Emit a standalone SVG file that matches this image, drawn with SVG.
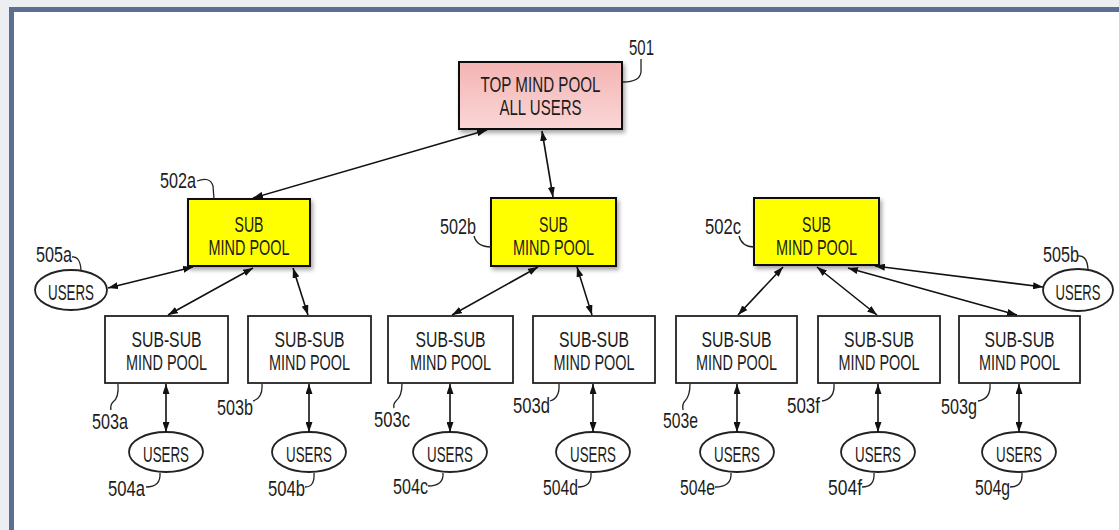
<svg xmlns="http://www.w3.org/2000/svg" width="1119" height="530" viewBox="0 0 1119 530">
<defs>
<marker id="ah" viewBox="0 0 10 7" refX="10" refY="3.5" markerWidth="10" markerHeight="7" markerUnits="userSpaceOnUse" orient="auto-start-reverse"><path d="M0,0 L10,3.5 L0,7 z" fill="#111"/></marker>
<linearGradient id="pink" x1="0" y1="0" x2="0" y2="1"><stop offset="0" stop-color="#f4b4b4"/><stop offset="1" stop-color="#fad6d6"/></linearGradient>
<filter id="sh" x="-10%" y="-10%" width="130%" height="140%"><feDropShadow dx="2" dy="3" stdDeviation="2" flood-color="#000" flood-opacity="0.35"/></filter>
<style>
text{font-family:"Liberation Sans Narrow","Liberation Sans",Arial,sans-serif;fill:#1c1c1c;font-size:22px}
.c{text-anchor:middle}
.box{stroke:#111;stroke-width:2}
.ss{fill:#fff;stroke:#222;stroke-width:1.8}
.ell{fill:#fff;stroke:#222;stroke-width:1.8}
.con{stroke:#111;stroke-width:1.6;fill:none;marker-start:url(#ah);marker-end:url(#ah)}
.ld{stroke:#222;stroke-width:1.3;fill:none}
</style>
</defs>
<rect x="0" y="0" width="1119" height="530" fill="#eceef1"/>
<rect x="9" y="7" width="1110" height="523" fill="#fff"/>
<path d="M11.5,530 L11.5,9.5 L1119,9.5" fill="none" stroke="#5b6f92" stroke-width="5"/>

<g id="n501">
<rect class="box" x="459" y="62" width="163" height="67" fill="url(#pink)" filter="url(#sh)"/>
<text class="c" x="540.5" y="92" textLength="120" lengthAdjust="spacingAndGlyphs">TOP MIND POOL</text>
<text class="c" x="540.5" y="115" textLength="82" lengthAdjust="spacingAndGlyphs">ALL USERS</text>
<text x="629" y="55" textLength="25" lengthAdjust="spacingAndGlyphs">501</text>
<path class="ld" d="M641,59 L641,72 Q640,82 623,82"/>
</g>

<g id="n502a">
<rect class="box" x="188" y="199" width="122" height="67" fill="#ffff00" filter="url(#sh)"/>
<text class="c" x="249" y="232" textLength="29" lengthAdjust="spacingAndGlyphs">SUB</text>
<text class="c" x="249" y="255" textLength="81" lengthAdjust="spacingAndGlyphs">MIND POOL</text>
<text x="160" y="188" textLength="36" lengthAdjust="spacingAndGlyphs">502a</text>
<path class="ld" d="M197,181 Q210,176 213,186 L214,199"/>
</g>
<g id="n502b">
<rect class="box" x="491" y="198" width="125" height="68" fill="#ffff00" filter="url(#sh)"/>
<text class="c" x="553.5" y="232" textLength="29" lengthAdjust="spacingAndGlyphs">SUB</text>
<text class="c" x="553.5" y="255" textLength="81" lengthAdjust="spacingAndGlyphs">MIND POOL</text>
<text x="440" y="234" textLength="36" lengthAdjust="spacingAndGlyphs">502b</text>
<path class="ld" d="M474,236 Q477,247 491,247"/>
</g>
<g id="n502c">
<rect class="box" x="754" y="198" width="125" height="67" fill="#ffff00" filter="url(#sh)"/>
<text class="c" x="816.5" y="232" textLength="29" lengthAdjust="spacingAndGlyphs">SUB</text>
<text class="c" x="816.5" y="255" textLength="81" lengthAdjust="spacingAndGlyphs">MIND POOL</text>
<text x="705" y="234" textLength="36" lengthAdjust="spacingAndGlyphs">502c</text>
<path class="ld" d="M739,236 Q742,247 754,247"/>
</g>

<g id="n503a"><rect class="ss" x="105" y="316" width="123" height="67"/>
<text class="c" x="166.5" y="347" textLength="70" lengthAdjust="spacingAndGlyphs">SUB-SUB</text>
<text class="c" x="166.5" y="370" textLength="81" lengthAdjust="spacingAndGlyphs">MIND POOL</text>
<text x="92" y="429" textLength="36" lengthAdjust="spacingAndGlyphs">503a</text>
<path class="ld" d="M118,384 Q119,398 113,402 Q110,405 111,410"/></g>
<g id="n503b"><rect class="ss" x="248" y="316" width="123" height="67"/>
<text class="c" x="309.5" y="347" textLength="70" lengthAdjust="spacingAndGlyphs">SUB-SUB</text>
<text class="c" x="309.5" y="370" textLength="81" lengthAdjust="spacingAndGlyphs">MIND POOL</text>
<text x="217" y="415" textLength="36" lengthAdjust="spacingAndGlyphs">503b</text>
<path class="ld" d="M262,384 Q263,398 253,401"/></g>
<g id="n503c"><rect class="ss" x="388" y="316" width="125" height="67"/>
<text class="c" x="450.5" y="347" textLength="70" lengthAdjust="spacingAndGlyphs">SUB-SUB</text>
<text class="c" x="450.5" y="370" textLength="81" lengthAdjust="spacingAndGlyphs">MIND POOL</text>
<text x="374" y="427" textLength="36" lengthAdjust="spacingAndGlyphs">503c</text>
<path class="ld" d="M402,384 Q402,396 396,401 Q393,404 394,408"/></g>
<g id="n503d"><rect class="ss" x="533" y="316" width="122" height="67"/>
<text class="c" x="594" y="347" textLength="70" lengthAdjust="spacingAndGlyphs">SUB-SUB</text>
<text class="c" x="594" y="370" textLength="81" lengthAdjust="spacingAndGlyphs">MIND POOL</text>
<text x="513" y="413" textLength="37" lengthAdjust="spacingAndGlyphs">503d</text>
<path class="ld" d="M559,384 Q560,398 550,401"/></g>
<g id="n503e"><rect class="ss" x="676" y="316" width="121" height="67"/>
<text class="c" x="736.5" y="347" textLength="70" lengthAdjust="spacingAndGlyphs">SUB-SUB</text>
<text class="c" x="736.5" y="370" textLength="81" lengthAdjust="spacingAndGlyphs">MIND POOL</text>
<text x="663" y="428" textLength="35" lengthAdjust="spacingAndGlyphs">503e</text>
<path class="ld" d="M690,384 Q690,396 685,401 Q682,404 683,410"/></g>
<g id="n503f"><rect class="ss" x="818" y="316" width="122" height="67"/>
<text class="c" x="879" y="347" textLength="70" lengthAdjust="spacingAndGlyphs">SUB-SUB</text>
<text class="c" x="879" y="370" textLength="81" lengthAdjust="spacingAndGlyphs">MIND POOL</text>
<text x="787" y="413" textLength="33" lengthAdjust="spacingAndGlyphs">503f</text>
<path class="ld" d="M834,384 Q835,399 822,401"/></g>
<g id="n503g"><rect class="ss" x="959" y="316" width="121" height="67"/>
<text class="c" x="1019.5" y="347" textLength="70" lengthAdjust="spacingAndGlyphs">SUB-SUB</text>
<text class="c" x="1019.5" y="370" textLength="81" lengthAdjust="spacingAndGlyphs">MIND POOL</text>
<text x="941" y="414" textLength="36" lengthAdjust="spacingAndGlyphs">503g</text>
<path class="ld" d="M990,384 Q991,399 978,401"/></g>

<g id="n504a"><ellipse class="ell" cx="166" cy="452" rx="37" ry="20"/>
<text class="c" x="166" y="462" textLength="46" lengthAdjust="spacingAndGlyphs">USERS</text>
<text x="108" y="496" textLength="37" lengthAdjust="spacingAndGlyphs">504a</text>
<path class="ld" d="M160,473 Q161,487 146,487"/></g>
<g id="n504b"><ellipse class="ell" cx="309" cy="452" rx="37" ry="20"/>
<text class="c" x="309" y="462" textLength="46" lengthAdjust="spacingAndGlyphs">USERS</text>
<text x="268" y="496" textLength="37" lengthAdjust="spacingAndGlyphs">504b</text>
<path class="ld" d="M314,473 Q315,487 305,487"/></g>
<g id="n504c"><ellipse class="ell" cx="450" cy="452" rx="37" ry="20"/>
<text class="c" x="450" y="462" textLength="46" lengthAdjust="spacingAndGlyphs">USERS</text>
<text x="393" y="494" textLength="35" lengthAdjust="spacingAndGlyphs">504c</text>
<path class="ld" d="M443,473 Q444,486 428,486"/></g>
<g id="n504d"><ellipse class="ell" cx="593" cy="452" rx="37" ry="20"/>
<text class="c" x="593" y="462" textLength="46" lengthAdjust="spacingAndGlyphs">USERS</text>
<text x="543" y="495" textLength="35" lengthAdjust="spacingAndGlyphs">504d</text>
<path class="ld" d="M591,473 Q592,487 578,487"/></g>
<g id="n504e"><ellipse class="ell" cx="737" cy="452" rx="37" ry="20"/>
<text class="c" x="737" y="462" textLength="46" lengthAdjust="spacingAndGlyphs">USERS</text>
<text x="680" y="495" textLength="35" lengthAdjust="spacingAndGlyphs">504e</text>
<path class="ld" d="M731,473 Q732,487 715,487"/></g>
<g id="n504f"><ellipse class="ell" cx="878" cy="452" rx="37" ry="20"/>
<text class="c" x="878" y="462" textLength="46" lengthAdjust="spacingAndGlyphs">USERS</text>
<text x="828" y="495" textLength="34" lengthAdjust="spacingAndGlyphs">504f</text>
<path class="ld" d="M874,473 Q875,487 862,487"/></g>
<g id="n504g"><ellipse class="ell" cx="1019" cy="452" rx="37" ry="20"/>
<text class="c" x="1019" y="462" textLength="46" lengthAdjust="spacingAndGlyphs">USERS</text>
<text x="975" y="495" textLength="35" lengthAdjust="spacingAndGlyphs">504g</text>
<path class="ld" d="M1022,473 Q1023,487 1010,487"/></g>

<g id="n505a"><ellipse class="ell" cx="71" cy="290" rx="36" ry="20"/>
<text class="c" x="71" y="300" textLength="46" lengthAdjust="spacingAndGlyphs">USERS</text>
<text x="36" y="262" textLength="36" lengthAdjust="spacingAndGlyphs">505a</text>
<path class="ld" d="M72,257 Q80,256 81,270"/></g>
<g id="n505b"><ellipse class="ell" cx="1078" cy="290" rx="35" ry="21"/>
<text class="c" x="1078" y="300" textLength="45" lengthAdjust="spacingAndGlyphs">USERS</text>
<text x="1043" y="262" textLength="36" lengthAdjust="spacingAndGlyphs">505b</text>
<path class="ld" d="M1078,256 Q1087,255 1088,269"/></g>

<g id="connectors">
<line class="con" x1="487" y1="130" x2="253" y2="198"/>
<line class="con" x1="542" y1="131" x2="553" y2="197"/>
<line class="con" x1="193" y1="267" x2="108" y2="288"/>
<line class="con" x1="253" y1="268" x2="168" y2="315"/>
<line class="con" x1="293" y1="268" x2="308" y2="315"/>
<line class="con" x1="538" y1="267" x2="452" y2="315"/>
<line class="con" x1="577" y1="267" x2="592" y2="315"/>
<line class="con" x1="783" y1="267" x2="738" y2="315"/>
<line class="con" x1="817" y1="267" x2="877" y2="315"/>
<line class="con" x1="848" y1="268" x2="1017" y2="315"/>
<line class="con" x1="875" y1="266" x2="1043" y2="287"/>
<line class="con" x1="166" y1="384" x2="166" y2="432"/>
<line class="con" x1="309" y1="384" x2="309" y2="432"/>
<line class="con" x1="450" y1="384" x2="450" y2="432"/>
<line class="con" x1="593" y1="384" x2="593" y2="432"/>
<line class="con" x1="737" y1="384" x2="737" y2="432"/>
<line class="con" x1="878" y1="384" x2="878" y2="432"/>
<line class="con" x1="1019" y1="384" x2="1019" y2="432"/>
</g>
</svg>
